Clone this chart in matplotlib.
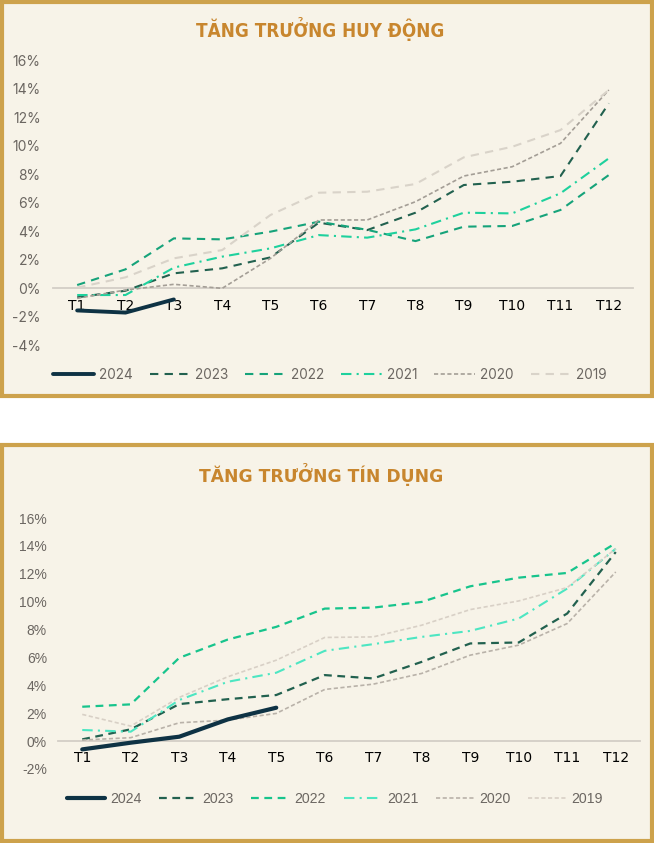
import matplotlib
matplotlib.use("Agg")
import matplotlib.pyplot as plt
from matplotlib.patches import Rectangle

W, H = 654, 843
months = ["T1", "T2", "T3", "T4", "T5", "T6", "T7", "T8", "T9", "T10", "T11", "T12"]
years = ["2024", "2023", "2022", "2021", "2020", "2019"]

# Tăng trưởng huy động (%)
hd_2024 = [-1.55, -1.7, -0.78]
hd_2023 = [-0.63, -0.17, 1.05, 1.40, 2.17, 4.6, 4.08, 5.3, 7.24, 7.47, 7.87, 12.96]
hd_2022 = [0.23, 1.33, 3.5, 3.43, 3.97, 4.67, 4.1, 3.31, 4.32, 4.37, 5.49, 7.94]
hd_2021 = [-0.47, -0.47, 1.45, 2.22, 2.8, 3.73, 3.55, 4.13, 5.3, 5.25, 6.66, 9.11]
hd_2020 = [-0.7, -0.12, 0.28, 0.0, 2.1, 4.79, 4.79, 6.07, 7.87, 8.52, 10.16, 13.9]
hd_2019 = [0.05, 0.77, 2.1, 2.68, 5.14, 6.7, 6.77, 7.31, 9.18, 9.92, 11.09, 13.9]

# Tăng trưởng tín dụng (%)
td_2024 = [-0.6, -0.12, 0.31, 1.55, 2.39]
td_2023 = [0.12, 0.84, 2.65, 3.0, 3.3, 4.73, 4.49, 5.68, 7.0, 7.07, 9.15, 13.56]
td_2022 = [2.46, 2.63, 5.97, 7.28, 8.19, 9.5, 9.57, 9.98, 11.1, 11.72, 12.06, 14.2]
td_2021 = [0.79, 0.67, 2.94, 4.25, 4.9, 6.47, 6.95, 7.47, 7.9, 8.79, 10.94, 13.8]
td_2020 = [0.07, 0.24, 1.31, 1.5, 1.98, 3.7, 4.08, 4.85, 6.16, 6.88, 8.43, 12.13]
td_2019 = [1.91, 1.07, 3.13, 4.61, 5.8, 7.43, 7.47, 8.31, 9.43, 10.05, 11.01, 13.8]

yticks = [-4, -2, 0, 2, 4, 6, 8, 10, 12, 14, 16]

BG = "#F7F3E8"
GOLD = "#CDA24C"
TITLE_C = "#C8862E"
TXT = "#6B6661"

fig = plt.figure(figsize=(W / 100, H / 100), dpi=100)
fig.patch.set_facecolor("white")


def fx(x):
    return x / W


def fy(y):
    return 1 - y / H


def panel(y0, y1):
    r = Rectangle((fx(2), fy(y1)), fx(W - 4), (y1 - y0) / H, transform=fig.transFigure,
                  facecolor=BG, edgecolor=GOLD, linewidth=3.0, zorder=-10)
    fig.patches.append(r)


panel(2, 396)
panel(445, 841)


def make_axes(x0, x1, ytop, ybot):
    ax = fig.add_axes([fx(x0), fy(ybot), (x1 - x0) / W, (ybot - ytop) / H])
    ax.set_facecolor("none")
    ax.set_zorder(2)
    return ax


styles_top = {
    "2024": dict(color="#0E3244", lw=2.8, ls="-"),
    "2023": dict(color="#22614F", lw=1.5, ls=(0, (4, 3))),
    "2022": dict(color="#16A37A", lw=1.5, ls=(0, (4, 3))),
    "2021": dict(color="#1ED19D", lw=1.5, ls=(0, (5, 2.5, 1, 2.5))),
    "2020": dict(color="#A49E96", lw=1.2, ls=(0, (2.5, 1.5))),
    "2019": dict(color="#D9D3C9", lw=1.5, ls=(0, (4, 3))),
}
styles_bot = {
    "2024": dict(color="#0E3244", lw=3.0, ls="-"),
    "2023": dict(color="#22614F", lw=1.6, ls=(0, (3.5, 2.5))),
    "2022": dict(color="#17C48C", lw=1.6, ls=(0, (3.5, 2.5))),
    "2021": dict(color="#4DE6C2", lw=1.5, ls=(0, (5, 2.5, 1, 2.5))),
    "2020": dict(color="#B9B2A9", lw=1.2, ls=(0, (2.5, 1.5))),
    "2019": dict(color="#D8D0C6", lw=1.2, ls=(0, (2.5, 1.5))),
}


def draw(ax, data, styles, ylim, family, xpad, ypad, leg_center, leg_y, leg_size, hlen,
         title, tx, ty, tsize, tstretch):
    x = list(range(len(months)))
    handles = []
    for yr, vals in zip(years, data):
        st = styles[yr]
        z = 5 if yr == "2024" else 3
        h, = ax.plot(x[:len(vals)], vals, color=st["color"], lw=st["lw"], linestyle=st["ls"],
                     label=yr, zorder=z, solid_capstyle="round")
        handles.append(h)
    ax.set_xlim(-0.5, 11.5)
    ax.set_ylim(*ylim)
    ax.set_xticks(x)
    ax.set_xticklabels(months, fontfamily=family, fontsize=10, color=TXT)
    ax.set_yticks([t for t in yticks if ylim[0] <= t <= ylim[1]])
    ax.set_yticklabels([f"{t}%" for t in yticks if ylim[0] <= t <= ylim[1]],
                       fontfamily=family, fontsize=10, color=TXT)
    for s in ["top", "right", "left"]:
        ax.spines[s].set_visible(False)
    ax.spines["bottom"].set_position(("data", 0))
    ax.spines["bottom"].set_color("#D3CEC6")
    ax.spines["bottom"].set_linewidth(1.3)
    ax.spines["bottom"].set_zorder(1)
    ax.tick_params(axis="x", length=0, pad=xpad)
    ax.tick_params(axis="y", length=0, pad=ypad)
    leg = fig.legend(handles=handles, labels=years, loc="center", ncol=6,
                     bbox_to_anchor=(fx(leg_center), fy(leg_y)), frameon=False,
                     handlelength=hlen, handletextpad=0.35, columnspacing=1.25,
                     prop=dict(family=family, size=leg_size))
    for t in leg.get_texts():
        t.set_color(TXT)
    fig.text(fx(tx), fy(ty), title, ha="center", va="center", color=TITLE_C,
             fontsize=tsize, fontweight="bold", fontfamily="DejaVu Sans",
             fontstretch=tstretch)


ax1 = make_axes(53, 633, 60, 345.4)
draw(ax1, [hd_2024, hd_2023, hd_2022, hd_2021, hd_2020, hd_2019], styles_top, (-4, 16),
     "Inter", 8.0, 9, 330, 375, 9.8, 3.0, "TĂNG TRƯỞNG HUY ĐỘNG", 320, 29, 13.5, "condensed")

ax2 = make_axes(58, 640, 518, 768.9)
draw(ax2, [td_2024, td_2023, td_2022, td_2021, td_2020, td_2019], styles_bot, (-2, 16),
     "Liberation Sans", 7.0, 8, 335, 799, 10.2, 2.7, "TĂNG TRƯỞNG TÍN DỤNG", 321, 475, 12.3,
     "normal")

fig.savefig("out.png", dpi=100, facecolor="white")
